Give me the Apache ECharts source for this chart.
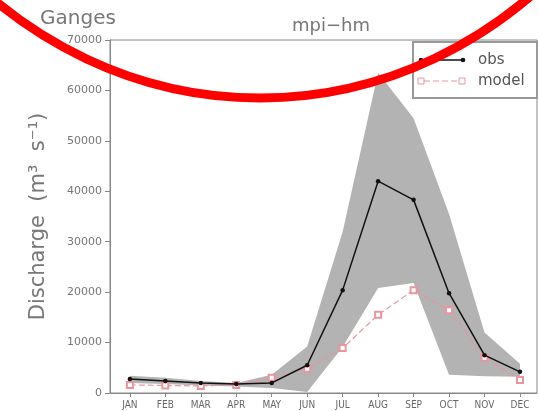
<!DOCTYPE html>
<html>
<head>
<meta charset="utf-8">
<script src="https://cdn.jsdelivr.net/npm/echarts@6/dist/echarts.min.js"></script>
<style>
  html, body { margin: 0; padding: 0; background: #fff; }
  #chart { width: 539px; height: 411px; }
</style>
</head>
<body>
<div id="chart"></div>
<script>
const months = ['JAN', 'FEB', 'MAR', 'APR', 'MAY', 'JUN', 'JUL', 'AUG', 'SEP', 'OCT', 'NOV', 'DEC'];
const obs = [2800, 2400, 2000, 1800, 2000, 5500, 20400, 42000, 38300, 19800, 7500, 4200];
const model = [1600, 1500, 1400, 1600, 3000, 4800, 8900, 15500, 20400, 16400, 7000, 2600];
const bandLow = [2000, 1800, 1500, 1300, 1000, 200, 9100, 20800, 21800, 3600, 3300, 3200];
const bandHigh = [3400, 3000, 2400, 2000, 3600, 9200, 32000, 63500, 54500, 35500, 12000, 5800];

const monthPos = months.map((m, i) => i + 1);
const pairs = (arr) => arr.map((v, i) => [monthPos[i], v]);

const gray = '#b3b3b3';
const pink = '#e8959f';
const axisGray = '#888';

const chart = echarts.init(document.getElementById('chart'));

// spread between runs: one polygon, upper edge left->right then lower edge back
function renderBand(params, api) {
  if (params.dataIndex !== 0) return null;
  const pts = [];
  for (let i = 0; i < monthPos.length; i++) pts.push(api.coord([monthPos[i], bandHigh[i]]));
  for (let i = monthPos.length - 1; i >= 0; i--) pts.push(api.coord([monthPos[i], bandLow[i]]));
  return {
    type: 'polygon',
    shape: { points: pts },
    style: { fill: gray, stroke: 'none' }
  };
}

const option = {
  animation: false,
  backgroundColor: '#fff',
  title: [
    {
      text: 'Ganges', left: 35, top: 4,
      textStyle: { fontFamily: 'DejaVu Sans', fontSize: 20, fontWeight: 'normal', color: '#777' }
    },
    {
      text: 'mpi\u2212hm', left: 326, top: 12, textAlign: 'center',
      textStyle: { fontFamily: 'DejaVu Sans', fontSize: 18, fontWeight: 'normal', color: '#777' }
    }
  ],
  grid: {
    left: 110, top: 40, right: 2, bottom: 18,
    show: true, borderColor: axisGray, borderWidth: 1
  },
  xAxis: {
    type: 'value',
    min: 0.44, max: 12.48,
    splitLine: { show: false },
    axisLine: { lineStyle: { color: axisGray } },
    axisTick: { customValues: monthPos, length: 4, lineStyle: { color: axisGray } },
    axisLabel: {
      customValues: monthPos,
      formatter: (v) => months[Math.round(v) - 1] || '',
      fontFamily: 'DejaVu Sans Condensed, sans-serif',
      fontSize: 10, color: '#666', margin: 7
    }
  },
  yAxis: {
    type: 'value',
    min: 0, max: 70000, interval: 10000,
    name: 'Discharge  (m\u00b3  s\u207b\u00b9)',
    nameLocation: 'middle', nameGap: 61, nameRotate: 90,
    nameTextStyle: { fontFamily: 'DejaVu Sans', fontSize: 21, color: '#777' },
    splitLine: { show: false },
    axisLine: { show: true, lineStyle: { color: axisGray } },
    axisTick: { show: true, length: 5, lineStyle: { color: axisGray } },
    axisLabel: {
      formatter: (v) => String(v),
      fontFamily: 'DejaVu Sans', fontSize: 11, color: '#777', margin: 8
    }
  },
  series: [
    {
      name: 'range', type: 'custom', renderItem: renderBand,
      data: monthPos.map((m, i) => [m, bandLow[i], bandHigh[i]]),
      encode: { x: 0, y: [1, 2] }, silent: true, z: 1
    },
    {
      name: 'model', type: 'line', data: pairs(model),
      symbol: 'emptyRect', symbolSize: 6,
      lineStyle: { color: pink, width: 1.2, type: [6, 3] },
      itemStyle: { color: pink, borderColor: pink, borderWidth: 1 },
      z: 3
    },
    {
      name: 'obs', type: 'line', data: pairs(obs),
      symbol: 'circle', symbolSize: 4.5,
      lineStyle: { color: '#111', width: 1.5 },
      itemStyle: { color: '#111' },
      z: 4
    }
  ],
  graphic: [
    {
      type: 'group', z: 50,
      children: [
        { type: 'rect', shape: { x: 413, y: 42, width: 124, height: 56 },
          style: { fill: '#fff', stroke: '#999', lineWidth: 2 } },
        { type: 'line', shape: { x1: 421, y1: 60, x2: 463, y2: 60 },
          style: { stroke: '#111', lineWidth: 1.5 } },
        { type: 'circle', shape: { cx: 421, cy: 60, r: 2.3 }, style: { fill: '#111' } },
        { type: 'circle', shape: { cx: 463, cy: 60, r: 2.3 }, style: { fill: '#111' } },
        { type: 'text', style: { x: 478, y: 60, text: 'obs', verticalAlign: 'middle',
          font: '15px DejaVu Sans', fill: '#555' } },
        { type: 'line', shape: { x1: 424, y1: 81, x2: 459, y2: 81 },
          style: { stroke: pink, lineWidth: 1.2, lineDash: [6, 3] } },
        { type: 'rect', shape: { x: 418, y: 78, width: 6, height: 6 },
          style: { fill: '#fff', stroke: pink, lineWidth: 1 } },
        { type: 'rect', shape: { x: 459, y: 78, width: 6, height: 6 },
          style: { fill: '#fff', stroke: pink, lineWidth: 1 } },
        { type: 'text', style: { x: 478, y: 81, text: 'model', verticalAlign: 'middle',
          font: '15px DejaVu Sans', fill: '#555' } }
      ]
    },
    {
      type: 'ellipse', z: 100, silent: true,
      shape: { cx: 260, cy: -402, rx: 447, ry: 500 },
      style: { fill: 'none', stroke: '#ff0000', lineWidth: 9 }
    }
  ]
};

chart.setOption(option);
window.addEventListener('resize', () => chart.resize());
</script>
</body>
</html>
